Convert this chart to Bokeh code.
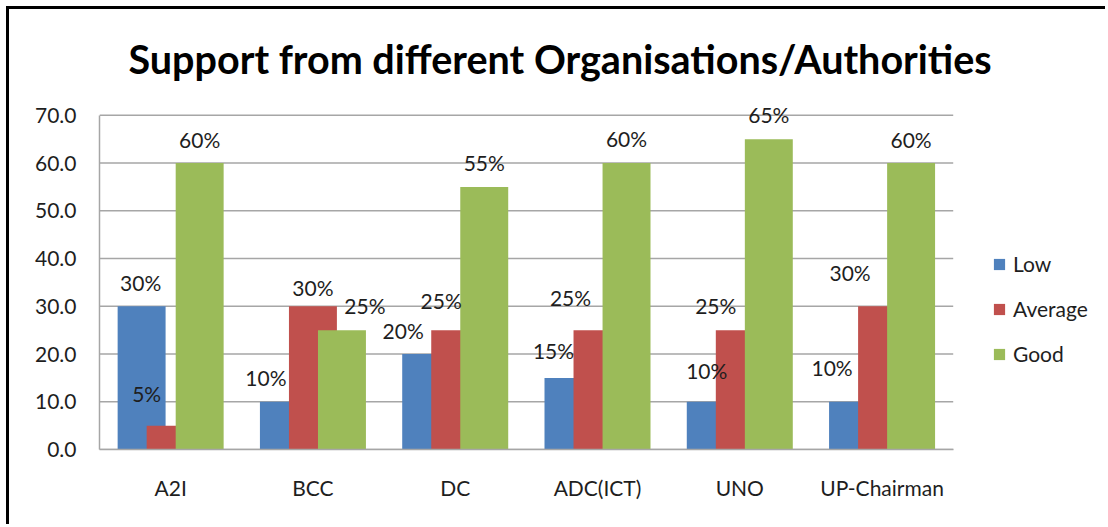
from bokeh.plotting import figure
from bokeh.models import (ColumnDataSource, Range1d, FixedTicker,
                          NumeralTickFormatter, Legend, LegendItem)
from bokeh.transform import dodge
from bokeh.core.properties import value
from bokeh.embed import file_html
from bokeh.resources import INLINE

# ---- data ----
categories = ["A2I", "BCC", "DC", "ADC(ICT)", "UNO", "UP-Chairman"]
series_names = ["Low", "Average", "Good"]
low = [30, 10, 20, 15, 10, 10]
average = [5, 30, 25, 25, 25, 30]
good = [60, 25, 55, 60, 65, 60]
y_ticks = [0, 10, 20, 30, 40, 50, 60, 70]
title_text = "Support from different Organisations/Authorities"

# ---- label nudges (pixels, layout only) ----
low_dx = [-1, -18, -23, -15, -4, -21]
low_dy = [24, 24, 24, 27, 31, 34]
avg_dx = [-24, 0, -14, -27, -24, -32]
avg_dy = [32, 19, 30, 33, 25, 34]
good_dx = [0, 23, 0, 0, 0, 0]
good_dy = [24, 25, 24, 25, 25, 24]

colors = ["#4F81BD", "#C0504D", "#9BBB59"]
FONT = "Lato"
TXT = "#1e1e1e"
GRID = "#a6a6a6"

n = len(categories)
centers = [i + 0.5 for i in range(n)]

p = figure(x_range=Range1d(0, 7.0), y_range=Range1d(0, 75),
           width=1099, height=518, output_backend="svg", toolbar_location=None,
           min_border_left=90, min_border_right=13, min_border_top=82,
           min_border_bottom=78,
           styles={"margin-left": "6px", "margin-top": "6px",
                   "border-left": "3px solid black", "border-top": "3px solid black"})
p.outline_line_color = None
p.background_fill_color = "white"
p.border_fill_color = "white"

p.title.text = title_text
p.title.align = "left"
p.title.offset = 29
p.title.text_font = FONT
p.title.text_font_style = "bold"
p.title.text_font_size = "39.5px"
p.title.text_color = "#000000"
p.title.standoff = 19

# horizontal gridlines over the category span only
p.segment(x0=[0] * len(y_ticks), x1=[n] * len(y_ticks), y0=y_ticks, y1=y_ticks,
          line_color=GRID, line_width=1.5)

offsets = [-0.204, 0.0, 0.204]
bar_w = 0.337
vals = [low, average, good]
dxs = [low_dx, avg_dx, good_dx]
dys = [low_dy, avg_dy, good_dy]
renderers = []
for name, v, off, col, dx, dy in zip(series_names, vals, offsets, colors, dxs, dys):
    src = ColumnDataSource(dict(xc=centers, cat=categories, val=v,
                                lab=[f"{x}%" for x in v],
                                dx=dx, dy=[-d for d in dy]))
    r = p.vbar(x=dodge("xc", off), top="val", width=bar_w,
               source=src, fill_color=col, line_color=None)
    renderers.append((name, r, src, off))

for name, r, src, off in renderers:
    p.text(x=dodge("xc", off), y="val", text="lab", source=src,
           x_offset="dx", y_offset="dy", text_align="center", text_baseline="middle",
           text_font=value(FONT), text_font_size="21px", text_color=TXT)

# axes
p.yaxis.ticker = FixedTicker(ticks=y_ticks)
p.yaxis.formatter = NumeralTickFormatter(format="0.0")
p.yaxis.bounds = (0, 70)
p.yaxis.major_tick_line_color = None
p.yaxis.minor_tick_line_color = None
p.yaxis.axis_line_color = GRID
p.yaxis.axis_line_width = 1.5
p.yaxis.major_label_standoff = 17
p.yaxis.major_label_text_font_size = "21px"

p.xaxis.ticker = FixedTicker(ticks=centers)
p.xaxis.major_label_overrides = {c: lab for c, lab in zip(centers, categories)}
p.xaxis.bounds = (0, n)
p.xaxis.major_tick_line_color = None
p.xaxis.minor_tick_line_color = None
p.xaxis.axis_line_color = GRID
p.xaxis.axis_line_width = 1.5
p.xaxis.major_label_standoff = 19
p.xaxis.major_label_text_font_size = "21px"
for ax in (p.xaxis, p.yaxis):
    ax.major_label_text_font = FONT
    ax.major_label_text_color = TXT
p.xgrid.grid_line_color = None
p.ygrid.grid_line_color = None

legend = Legend(items=[LegendItem(label=nm, renderers=[r]) for nm, r, _, _ in renderers],
                location=(893, 83), orientation="vertical")
legend.glyph_width = 14
legend.glyph_height = 14
legend.label_standoff = 7
legend.spacing = 20
legend.padding = 0
legend.margin = 0
legend.border_line_color = None
legend.background_fill_alpha = 0
legend.label_text_font = FONT
legend.label_text_font_size = "21px"
legend.label_text_color = TXT
p.add_layout(legend, "center")

open("out.html", "w").write(file_html(p, INLINE))
